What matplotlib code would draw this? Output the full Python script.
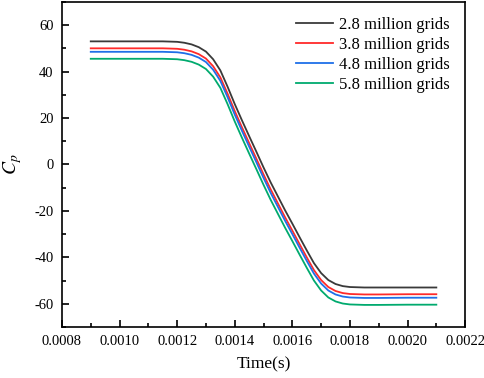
import matplotlib
matplotlib.use('Agg')
import matplotlib.pyplot as plt
from matplotlib.ticker import MultipleLocator

plt.rcParams['font.family'] = 'Liberation Serif'
plt.rcParams['mathtext.fontset'] = 'stix'
plt.rcParams['axes.unicode_minus'] = False

t = [0.0009, 0.0010, 0.0011,
     0.00115, 0.0012, 0.001225, 0.00125, 0.001275, 0.0013, 0.001325, 0.00135,
     0.001375, 0.0014, 0.001425, 0.00145, 0.001475, 0.0015, 0.001525, 0.00155,
     0.001575, 0.0016, 0.001625, 0.00165, 0.001675, 0.0017, 0.001725, 0.00175,
     0.001775, 0.0018, 0.00185,
     0.0019, 0.0020, 0.0021]

cp_28 = [53.0, 53.0, 53.0,
         53.0, 52.8, 52.4, 51.7, 50.5, 48.6, 45.3, 40.5, 33.5, 26.0, 19.0, 12.2,
         5.5, -1.3, -7.8, -13.8, -19.8, -25.5, -31.3, -37.0, -42.5, -46.8, -49.8,
         -51.5, -52.4, -52.8, -53.0,
         -53.0, -53.0, -53.0]
cp_38 = [50.0, 50.0, 50.0,
         50.0, 49.8, 49.4, 48.7, 47.5, 45.6, 42.3, 37.5, 30.5, 23.0, 16.0, 9.2,
         2.5, -4.3, -10.8, -16.8, -22.8, -28.5, -34.3, -40.0, -45.5, -49.8, -52.8,
         -54.5, -55.4, -55.8, -56.0,
         -56.0, -55.9, -55.9]
cp_48 = [48.5, 48.5, 48.5,
         48.5, 48.3, 47.9, 47.2, 46.0, 44.1, 40.8, 36.0, 29.0, 21.5, 14.5, 7.7,
         1.0, -5.8, -12.3, -18.3, -24.3, -30.0, -35.8, -41.5, -47.0, -51.3, -54.3,
         -56.0, -56.9, -57.3, -57.5,
         -57.5, -57.4, -57.4]
cp_58 = [45.5, 45.5, 45.5,
         45.5, 45.3, 44.9, 44.2, 43.0, 41.1, 37.8, 33.0, 26.0, 18.5, 11.5, 4.7,
         -2.0, -8.8, -15.3, -21.3, -27.3, -33.0, -38.8, -44.5, -50.0, -54.3, -57.3,
         -59.0, -59.9, -60.3, -60.5,
         -60.5, -60.4, -60.4]

labels = ['2.8 million grids', '3.8 million grids', '4.8 million grids', '5.8 million grids']
colors = ['#3a3a3a', '#ff2a2a', '#1f6fe8', '#00aa6e']
xticks = [0.0008, 0.0010, 0.0012, 0.0014, 0.0016, 0.0018, 0.0020, 0.0022]
xticklabels = ['0.0008', '0.0010', '0.0012', '0.0014', '0.0016', '0.0018', '0.0020', '0.0022']

fig = plt.figure(figsize=(4.84, 3.78), dpi=100)
ax = fig.add_axes([0.128, 0.135, 0.833, 0.86])

for ys, lab, c in zip([cp_28, cp_38, cp_48, cp_58], labels, colors):
    ax.plot(t, ys, color=c, lw=1.3, label=lab)

ax.set_xlim(0.0008, 0.0022)
ax.set_ylim(-70, 70)
ax.set_xticks(xticks)
ax.set_xticklabels(xticklabels)
ax.xaxis.set_minor_locator(MultipleLocator(0.0001))
ax.yaxis.set_major_locator(MultipleLocator(20))
ax.yaxis.set_minor_locator(MultipleLocator(10))

ax.tick_params(which='both', direction='in', top=False, right=False, labelsize=10.5, width=1.2)
ax.tick_params(which='major', length=5, pad=6)
ax.tick_params(which='minor', length=3)
for s in ax.spines.values():
    s.set_linewidth(1.2)

ax.set_xlabel('Time(s)', fontsize=12.5, labelpad=6)
ax.set_ylabel('$C_p$', fontsize=14)
ax.yaxis.set_label_coords(-0.095, 0.5)

ax.legend(loc='upper right', fontsize=12, frameon=False, handlelength=2.2,
          handletextpad=0.35, labelspacing=0.25, borderaxespad=0.3,
          bbox_to_anchor=(0.99, 0.99))

fig.savefig('out.png', dpi=100)
